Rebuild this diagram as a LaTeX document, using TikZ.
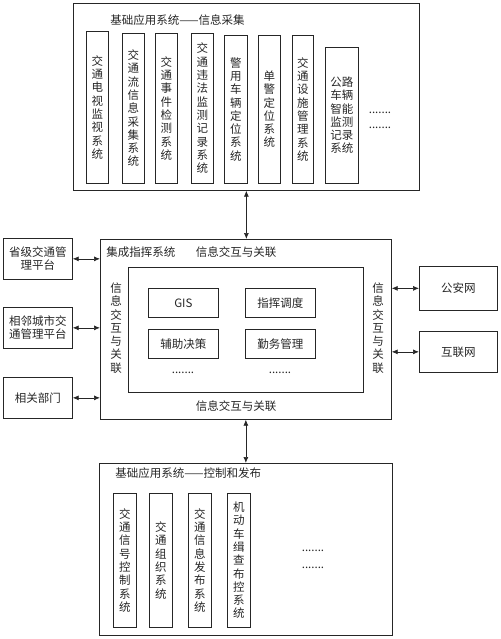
\documentclass[tikz,border=0pt]{standalone}
\usepackage{fontspec}
\setmainfont{Noto Sans CJK SC}
\usetikzlibrary{arrows.meta}

\begin{document}
\begin{tikzpicture}
[ x=1pt, y=-1pt, line width=0.7pt, color=black!85
, frame/.style={rectangle, draw, anchor=north west, inner sep=0pt}
, sysbox/.style={frame, align=center, font=\fontsize{11.5}{13.3}\selectfont}
, infotext/.style={inner sep=0pt, align=center, font=\fontsize{11.5}{13.3}\selectfont}
, link/.style={{Latex[length=6pt,width=5pt]}-{Latex[length=6pt,width=5pt]}}
]
\useasboundingbox (0,0) rectangle (500,639);
% Top block: collection
\node (collect) [frame, minimum width=346, minimum height=187] at (73,3) {};
\node (collecttitle) [infotext, anchor=west] at (110,20) {基础应用系统——信息采集};
\node (tv) [sysbox, minimum width=22, minimum height=152] at (86,31) {交\\通\\电\\视\\监\\视\\系\\统};
\node (flow) [sysbox, minimum width=22, minimum height=150] at (122,33) {交\\通\\流\\信\\息\\采\\集\\系\\统};
\node (event) [sysbox, minimum width=22, minimum height=150] at (155,33) {交\\通\\事\\件\\检\\测\\系\\统};
\node (illegal) [sysbox, minimum width=22, minimum height=150] at (191,33) {交\\通\\违\\法\\监\\测\\记\\录\\系\\统};
\node (car) [sysbox, minimum width=23, minimum height=148] at (224,35) {警\\用\\车\\辆\\定\\位\\系\\统};
\node (police) [sysbox, minimum width=22, minimum height=148] at (258,35) {单\\警\\定\\位\\系\\统};
\node (facility) [sysbox, minimum width=21, minimum height=148] at (292,35) {交\\通\\设\\施\\管\\理\\系\\统};
\node (road) [sysbox, minimum width=33, minimum height=136] at (325,47) {公路\\车辆\\智能\\监测\\记录\\系统};
\node (collectdots1) [infotext] at (380,113) {.......};
\node (collectdots2) [infotext] at (380,128) {.......};
% Middle block: command
\node (mid) [frame, minimum width=291, minimum height=180] at (100,239) {};
\node (core) [frame, minimum width=235, minimum height=125] at (128,267) {};
\node (midtitle) [infotext, anchor=west] at (106,252) {集成指挥系统};
\node (linktop) [infotext] at (236,252) {信息交互与关联};
\node (linkbottom) [infotext] at (236,406) {信息交互与关联};
\node (linkleft) [infotext] at (116,328) {信\\息\\交\\互\\与\\关\\联};
\node (linkright) [infotext] at (378,328) {信\\息\\交\\互\\与\\关\\联};
\node (gis) [sysbox, minimum width=70, minimum height=29] at (148,288) {GIS};
\node (dispatch) [sysbox, minimum width=70, minimum height=29] at (245,288) {指挥调度};
\node (decision) [sysbox, minimum width=70, minimum height=29] at (148,329) {辅助决策};
\node (duty) [sysbox, minimum width=70, minimum height=29] at (245,329) {勤务管理};
\node (coredots1) [infotext] at (183,373) {.......};
\node (coredots2) [infotext] at (280,373) {.......};
% Side platforms
\node (prov) [sysbox, minimum width=69, minimum height=41] at (3,238) {省级交通管\\理平台};
\node (city) [sysbox, minimum width=69, minimum height=41] at (3,307) {相邻城市交\\通管理平台};
\node (dept) [sysbox, minimum width=69, minimum height=41] at (3,377) {相关部门};
\node (gongan) [sysbox, minimum width=78, minimum height=44] at (419,266) {公安网};
\node (internet) [sysbox, minimum width=78, minimum height=41] at (419,331) {互联网};
% Bottom block: control and publishing
\node (publish) [frame, minimum width=293, minimum height=172] at (99,463) {};
\node (publishtitle) [infotext, anchor=west] at (115,473) {基础应用系统——控制和发布};
\node (signal) [sysbox, minimum width=23, minimum height=134] at (113,493) {交\\通\\信\\号\\控\\制\\系\\统};
\node (organize) [sysbox, minimum width=23, minimum height=134] at (149,493) {交\\通\\组\\织\\系\\统};
\node (release) [sysbox, minimum width=23, minimum height=134] at (188,493) {交\\通\\信\\息\\发\\布\\系\\统};
\node (check) [sysbox, minimum width=23, minimum height=134] at (227,493) {机\\动\\车\\缉\\查\\布\\控\\系\\统};
\node (publishdots1) [infotext] at (313,551) {.......};
\node (publishdots2) [infotext] at (313,568) {.......};
% Connectors
\draw [link] (collect.south) -- (collect.south |- mid.north);
\draw [link] (mid.south) -- (mid.south |- publish.north);
\draw [link] (prov.east) -- (prov.east -| mid.west);
\draw [link] (city.east) -- (city.east -| mid.west);
\draw [link] (dept.east) -- (dept.east -| mid.west);
\draw [link] (gongan.west -| mid.east) -- (gongan.west);
\draw [link] (internet.west -| mid.east) -- (internet.west);
\end{tikzpicture}
\end{document}
